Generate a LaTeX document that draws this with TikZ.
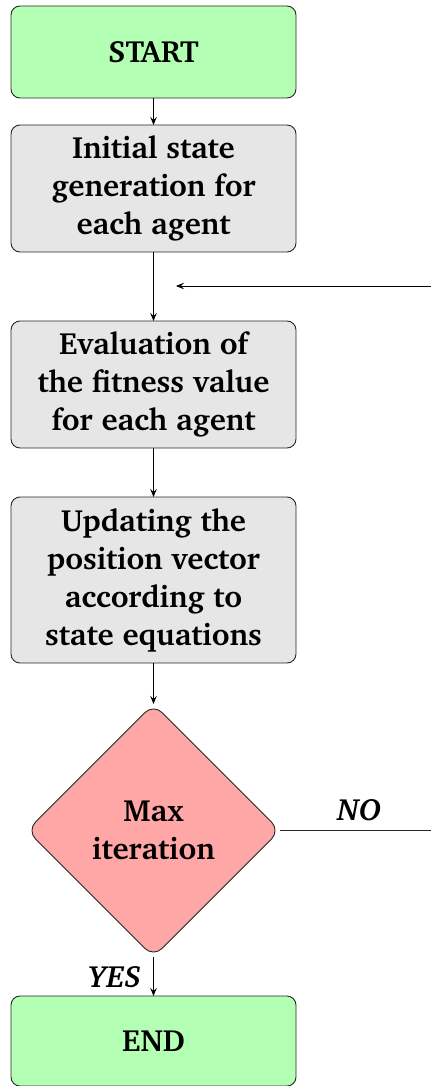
\documentclass[tikz,border=0pt]{standalone}
\usepackage[T1]{fontenc}
\usepackage{charter}
\usetikzlibrary{shapes.geometric,arrows.meta}
\definecolor{startgreen}{RGB}{179,255,179}
\definecolor{procgray}{RGB}{230,230,230}
\definecolor{decred}{RGB}{255,166,166}
\definecolor{edgegray}{RGB}{40,40,40}
\tikzset{
  base/.style={draw=edgegray, line width=0.9pt, font=\fontsize{30.7}{38}\selectfont\bfseries, align=center, inner sep=0pt, outer sep=0pt},
  term/.style={base, rectangle, rounded corners=9pt, fill=startgreen, minimum width=285pt},
  proc/.style={base, rectangle, rounded corners=9pt, fill=procgray, minimum width=285pt},
  dec/.style={base, diamond, rounded corners=12pt, fill=decred, minimum width=253pt, minimum height=253pt, aspect=1},
  arr/.style={draw=black, line width=0.9pt, -{Stealth[length=8pt,width=6.5pt,inset=3pt]}},
  ln/.style={draw=black!85, line width=0.9pt},
  lab/.style={font=\fontsize{30.7}{38}\selectfont\bfseries\itshape, inner sep=0pt}
}
\begin{document}
\begin{tikzpicture}[x=1pt,y=-1pt]
\useasboundingbox (0,0) rectangle (431,1086);
\node[term, minimum height=92pt] (start) at (153.5,52) {START};
\node[proc, minimum height=127pt] (init) at (153.5,188.5) {Initial state\\generation for\\each agent};
\node[proc, minimum height=127pt] (eval) at (153.5,384.5) {Evaluation of\\the fitness value\\for each agent};
\node[proc, minimum height=166pt] (upd) at (153.5,580) {Updating the\\position vector\\according to\\state equations};
\node[dec] (max) at (153.5,830.5) {Max\\iteration};
\node[term, minimum height=90pt] (end) at (153.5,1041) {END};
\coordinate (noend) at (431,830.5);
\coordinate (fbstart) at (431,286);
\coordinate (fbend) at (176,286);
\draw[arr] (start) -- (init);
\draw[arr] (init) -- (eval);
\draw[arr] (eval) -- (upd);
\draw[arr] (upd) -- (max);
\draw[arr] (max) -- (end);
\draw[ln] (max.east) -- (noend);
\draw[arr] (fbstart) -- (fbend);
\node[lab] (yes) at (115,977) {YES};
\node[lab] (no) at (359.5,810) {NO};
\end{tikzpicture}
\end{document}
